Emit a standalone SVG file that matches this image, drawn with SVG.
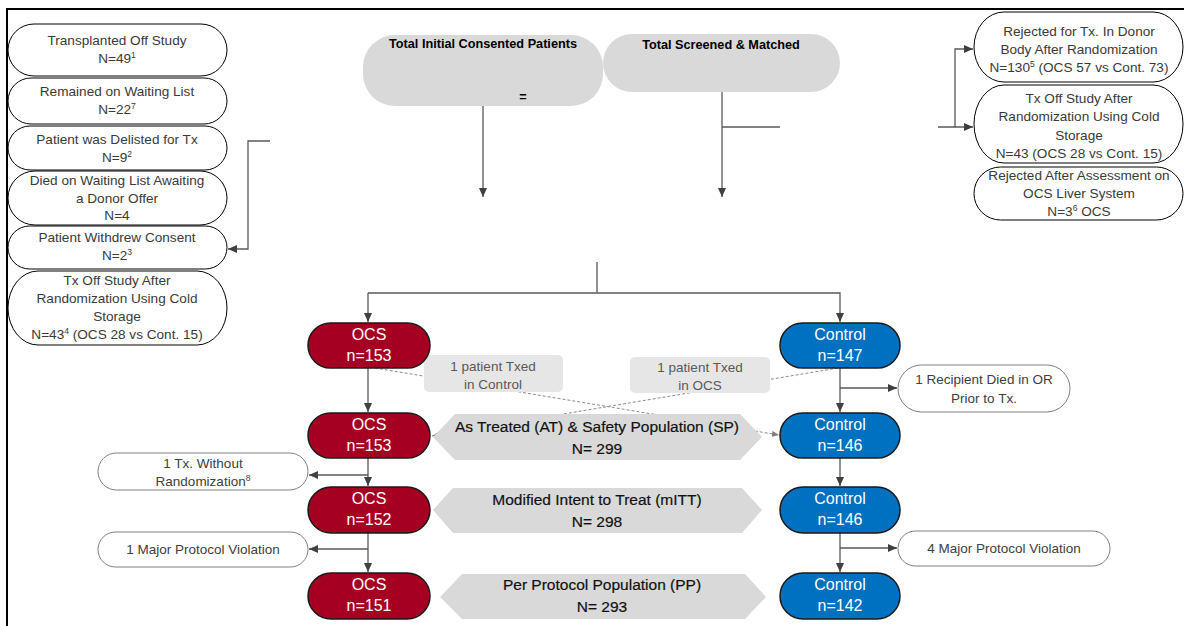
<svg xmlns="http://www.w3.org/2000/svg" width="1184" height="626" viewBox="0 0 1184 626">
<defs>
<style>
text{font-family:"Liberation Sans",Arial,sans-serif;text-anchor:middle}
.side{fill:#fff;stroke:#000;stroke-width:1}
.side-t{font-size:13.6px;fill:#3a3a3a}
.soft{fill:#fff;stroke:#808080;stroke-width:1}
.soft-t{font-size:13.5px;fill:#404040}
.top{fill:#d9d9d9}
.top-t{font-size:12.7px;font-weight:bold;fill:#000}
.ocs{fill:#a50021;stroke:#1a1a1a;stroke-width:1.5}
.ctl{fill:#0070c0;stroke:#1a1a1a;stroke-width:1.5}
.arm-t{font-size:16px;fill:#fff}
.hex{fill:#d9d9d9}
.hex-t{font-size:15.5px;fill:#111;stroke:#111;stroke-width:0.2}
.lab{fill:#e7e6e6}
.lab-t{font-size:13.5px;fill:#595959}
.conn{fill:none;stroke:#595959;stroke-width:1.3}
.dash{fill:none;stroke:#8c8c8c;stroke-width:1;stroke-dasharray:3 2}
</style>
<marker id="ah" markerWidth="9" markerHeight="8" refX="9" refY="4" orient="auto" markerUnits="userSpaceOnUse"><path d="M0,0 L9,4 L0,8 z" fill="#404040"/></marker>
<marker id="ahd" markerWidth="7" markerHeight="6" refX="7" refY="3" orient="auto" markerUnits="userSpaceOnUse"><path d="M0,0 L7,3 L0,6 z" fill="#7f7f7f"/></marker>
</defs>
<rect width="1184" height="626" fill="#fff"/>
<path d="M7,626 V9 H1184" fill="none" stroke="#000" stroke-width="2"/>

<g id="connectors">
<path class="dash" d="M375,368 L779,435" marker-end="url(#ahd)"/>
<path class="dash" d="M838,368 L432,436" marker-end="url(#ahd)"/>
<path class="conn" d="M483,106 V197" marker-end="url(#ah)"/>
<path class="conn" d="M722,92 V197" marker-end="url(#ah)"/>
<path class="conn" d="M722,127 H780"/>
<path class="conn" d="M938,127 H973" marker-end="url(#ah)"/>
<path class="conn" d="M955,127 V49 H973" marker-end="url(#ah)"/>
<path class="conn" d="M270,141 H248 V249 H228" marker-end="url(#ah)"/>
<path class="conn" d="M597,262 V293"/>
<path class="conn" d="M368,293 V322" marker-end="url(#ah)"/>
<path class="conn" d="M368,293 H840 V322" marker-end="url(#ah)"/>
<path class="conn" d="M368,368 V412" marker-end="url(#ah)"/>
<path class="conn" d="M368,458 V486" marker-end="url(#ah)"/>
<path class="conn" d="M368,475 H309" marker-end="url(#ah)"/>
<path class="conn" d="M368,533 V572" marker-end="url(#ah)"/>
<path class="conn" d="M368,549 H309" marker-end="url(#ah)"/>
<path class="conn" d="M840,368 V412" marker-end="url(#ah)"/>
<path class="conn" d="M840,388 H897" marker-end="url(#ah)"/>
<path class="conn" d="M840,458 V486" marker-end="url(#ah)"/>
<path class="conn" d="M840,533 V572" marker-end="url(#ah)"/>
<path class="conn" d="M840,548 H897" marker-end="url(#ah)"/>
</g>

<g id="total-consented">
<rect class="top" x="363" y="35" width="240" height="71" rx="32"/>
<text class="top-t" x="483" y="48">Total Initial Consented Patients</text>
<text class="top-t" x="523" y="101">=</text>
</g>
<g id="total-screened">
<rect class="top" x="603" y="34" width="237" height="58" rx="29"/>
<text class="top-t" x="721" y="49">Total Screened &amp; Matched</text>
</g>

<g id="off-study">
<rect class="side" x="8" y="24" width="219" height="52" rx="26" ry="26"/>
<text class="side-t" x="117" y="45">Transplanted Off Study</text>
<text class="side-t" x="117" y="63">N=49<tspan font-size="8.5" dy="-5">1</tspan></text>
</g>
<g id="waiting-list">
<rect class="side" x="8" y="78" width="219" height="46" rx="23" ry="23"/>
<text class="side-t" x="117" y="96">Remained on Waiting List</text>
<text class="side-t" x="117" y="114">N=22<tspan font-size="8.5" dy="-5">7</tspan></text>
</g>
<g id="delisted">
<rect class="side" x="8" y="126" width="219" height="44" rx="22" ry="22"/>
<text class="side-t" x="117" y="144">Patient was Delisted for Tx</text>
<text class="side-t" x="117" y="162">N=9<tspan font-size="8.5" dy="-5">2</tspan></text>
</g>
<g id="died-waiting">
<rect class="side" x="8" y="171" width="219" height="54" rx="27" ry="27"/>
<text class="side-t" x="117" y="185">Died on Waiting List Awaiting</text>
<text class="side-t" x="117" y="203">a Donor Offer</text>
<text class="side-t" x="117" y="220">N=4</text>
</g>
<g id="withdrew">
<rect class="side" x="8" y="226" width="219" height="43" rx="21.5" ry="21.5"/>
<text class="side-t" x="117" y="242">Patient Withdrew Consent</text>
<text class="side-t" x="117" y="260">N=2<tspan font-size="8.5" dy="-5">3</tspan></text>
</g>
<g id="off-study-cold-left">
<rect class="side" x="8" y="271" width="219" height="74" rx="30" ry="37"/>
<text class="side-t" x="117" y="285">Tx Off Study After</text>
<text class="side-t" x="117" y="303">Randomization Using Cold</text>
<text class="side-t" x="117" y="321">Storage</text>
<text class="side-t" x="117" y="339">N=43<tspan font-size="8.5" dy="-5">4</tspan><tspan dy="5"> (OCS 28 vs Cont. 15)</tspan></text>
</g>

<g id="rejected-donor">
<rect class="side" x="974" y="12" width="209" height="70" rx="30" ry="35"/>
<text class="side-t" x="1079" y="36">Rejected for Tx. In Donor</text>
<text class="side-t" x="1079" y="54">Body After Randomization</text>
<text class="side-t" x="1079" y="72">N=130<tspan font-size="8.5" dy="-5">5</tspan><tspan dy="5"> (OCS 57 vs Cont. 73)</tspan></text>
</g>
<g id="off-study-cold-right">
<rect class="side" x="974" y="85" width="209" height="78" rx="30" ry="39"/>
<text class="side-t" x="1079" y="103">Tx Off Study After</text>
<text class="side-t" x="1079" y="121">Randomization Using Cold</text>
<text class="side-t" x="1079" y="140">Storage</text>
<text class="side-t" x="1079" y="158">N=43 (OCS 28 vs Cont. 15)</text>
</g>
<g id="rejected-ocs">
<rect class="side" x="974" y="167" width="209" height="53" rx="26.5" ry="26.5"/>
<text class="side-t" x="1079" y="180">Rejected After Assessment on</text>
<text class="side-t" x="1079" y="198">OCS Liver System</text>
<text class="side-t" x="1079" y="216">N=3<tspan font-size="8.5" dy="-5">6</tspan><tspan dy="5"> OCS</tspan></text>
</g>

<g id="label-txed-control">
<rect class="lab" x="424" y="355" width="139" height="37" rx="5"/>
<text class="lab-t" x="493" y="371">1 patient Txed</text>
<text class="lab-t" x="493" y="389">in Control</text>
</g>
<g id="label-txed-ocs">
<rect class="lab" x="630" y="357" width="140" height="36" rx="5"/>
<text class="lab-t" x="700" y="372">1 patient Txed</text>
<text class="lab-t" x="700" y="390">in OCS</text>
</g>

<g id="ocs-153-rand">
<rect class="ocs" x="308" y="323" width="122" height="45" rx="22.5"/>
<text class="arm-t" x="369" y="340">OCS</text>
<text class="arm-t" x="369" y="361">n=153</text>
</g>
<g id="control-147">
<rect class="ctl" x="780" y="323" width="120" height="45" rx="22.5"/>
<text class="arm-t" x="840" y="340">Control</text>
<text class="arm-t" x="840" y="361">n=147</text>
</g>
<g id="died-or">
<rect class="soft" x="898" y="365" width="172" height="47" rx="23.5"/>
<text class="soft-t" x="984" y="384">1 Recipient Died in OR</text>
<text class="soft-t" x="984" y="403">Prior to Tx.</text>
</g>

<g id="as-treated">
<polygon class="hex" points="433,437 455,414 740,414 762,437 740,460 455,460"/>
<text class="hex-t" x="597" y="432">As Treated (AT) &amp; Safety Population (SP)</text>
<text class="hex-t" x="597" y="454">N= 299</text>
</g>
<g id="ocs-153-at">
<rect class="ocs" x="308" y="413" width="122" height="45" rx="22.5"/>
<text class="arm-t" x="369" y="430">OCS</text>
<text class="arm-t" x="369" y="451">n=153</text>
</g>
<g id="control-146-at">
<rect class="ctl" x="780" y="413" width="120" height="45" rx="22.5"/>
<text class="arm-t" x="840" y="430">Control</text>
<text class="arm-t" x="840" y="451">n=146</text>
</g>
<g id="no-randomization">
<rect class="soft" x="98" y="453" width="210" height="37" rx="18.5"/>
<text class="soft-t" x="203" y="468">1 Tx. Without</text>
<text class="soft-t" x="203" y="486">Randomization<tspan font-size="8.5" dy="-5">8</tspan></text>
</g>

<g id="mitt">
<polygon class="hex" points="433,510 453,488 742,488 762,510 742,533 453,533"/>
<text class="hex-t" x="597" y="505">Modified Intent to Treat (mITT)</text>
<text class="hex-t" x="597" y="527">N= 298</text>
</g>
<g id="ocs-152">
<rect class="ocs" x="308" y="487" width="122" height="46" rx="23"/>
<text class="arm-t" x="369" y="504">OCS</text>
<text class="arm-t" x="369" y="525">n=152</text>
</g>
<g id="control-146-mitt">
<rect class="ctl" x="780" y="487" width="120" height="46" rx="23"/>
<text class="arm-t" x="840" y="504">Control</text>
<text class="arm-t" x="840" y="525">n=146</text>
</g>
<g id="violation-ocs">
<rect class="soft" x="98" y="532" width="210" height="35" rx="17.5"/>
<text class="soft-t" x="203" y="554">1 Major Protocol Violation</text>
</g>
<g id="violation-control">
<rect class="soft" x="898" y="531" width="212" height="35" rx="17.5"/>
<text class="soft-t" x="1004" y="553">4 Major Protocol Violation</text>
</g>

<g id="per-protocol">
<polygon class="hex" points="440,597 462,574 745,574 766,597 745,619 462,619"/>
<text class="hex-t" x="602" y="590">Per Protocol Population (PP)</text>
<text class="hex-t" x="602" y="612">N= 293</text>
</g>
<g id="ocs-151">
<rect class="ocs" x="308" y="573" width="122" height="46" rx="23"/>
<text class="arm-t" x="369" y="590">OCS</text>
<text class="arm-t" x="369" y="611">n=151</text>
</g>
<g id="control-142">
<rect class="ctl" x="780" y="573" width="120" height="46" rx="23"/>
<text class="arm-t" x="840" y="590">Control</text>
<text class="arm-t" x="840" y="611">n=142</text>
</g>
</svg>
